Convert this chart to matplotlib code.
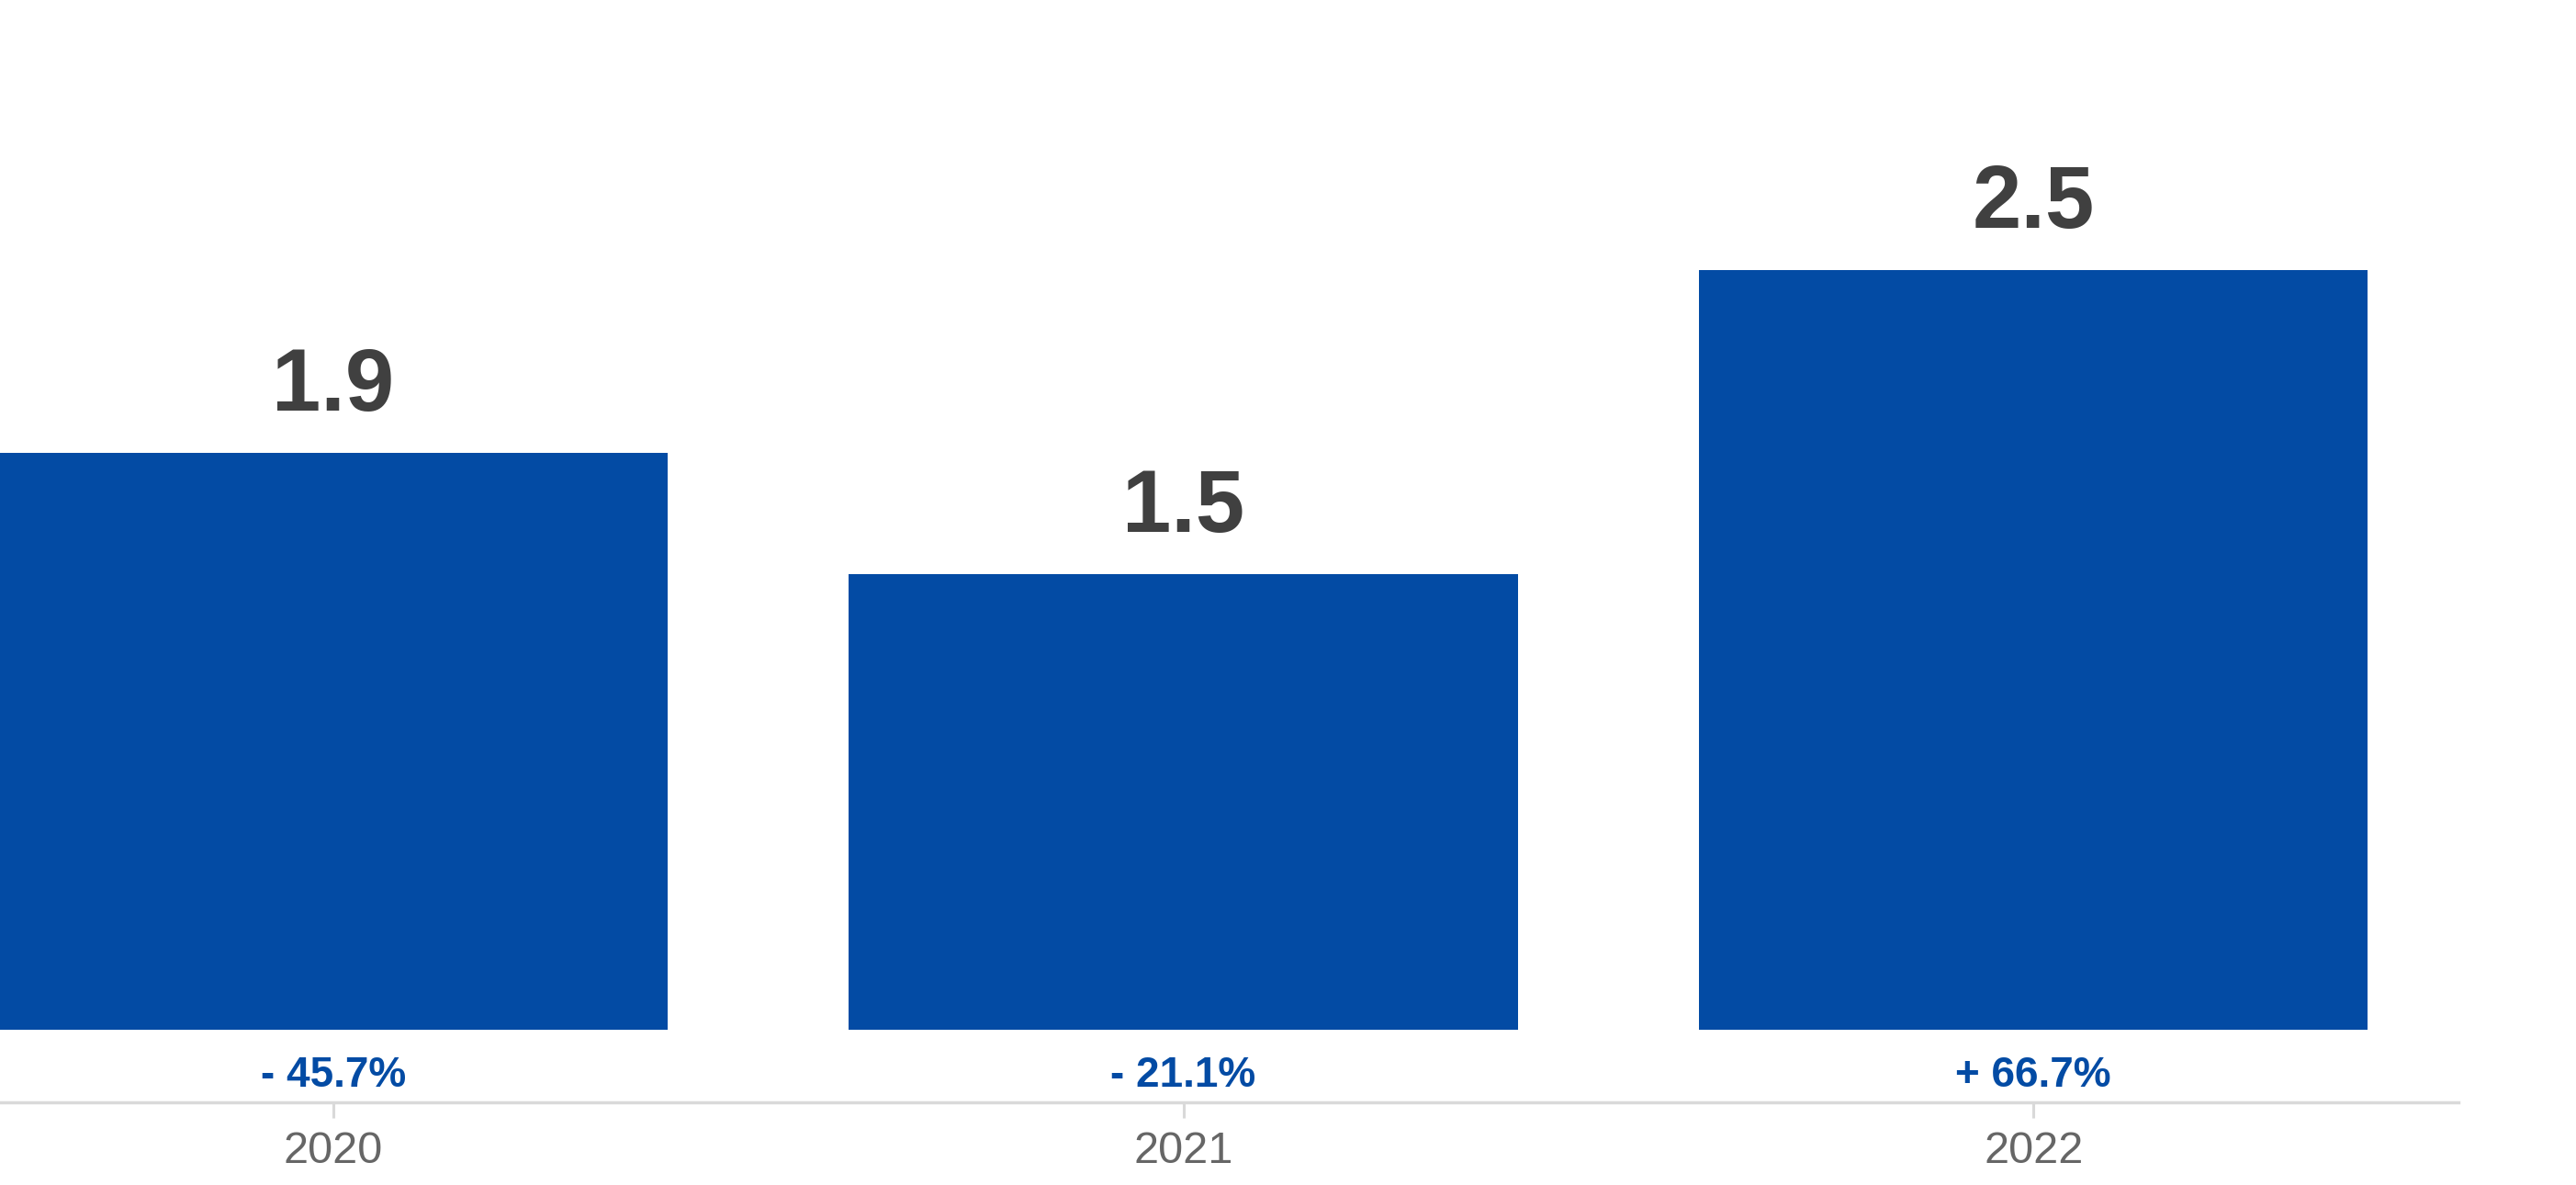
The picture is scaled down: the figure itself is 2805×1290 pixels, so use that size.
import matplotlib.pyplot as plt

# Data
years = ["2020", "2021", "2022"]
values = [1.9, 1.5, 2.5]
changes = ["- 45.7%", "- 21.1%", "+ 66.7%"]

bar_color = "#034ba4"
value_color = "#404040"
year_color = "#666666"
axis_color = "#d9d9d9"

plt.rcParams['font.family'] = ['Liberation Sans', 'DejaVu Sans']

fig = plt.figure(figsize=(28.05, 12.9), dpi=100)
# axes: left edge at canvas edge, bottom spine is the grey axis line
ax = fig.add_axes([0, 90 / 1290, 2677 / 2805, 1200 / 1290])

x = list(range(len(years)))
ax.bar(x, values, width=0.787, color=bar_color, zorder=2)

# value labels above bars
for xi, v in zip(x, values):
    ax.annotate(f"{v:.1f}", (xi, v), xytext=(0, 33), textcoords='offset points',
                ha='center', va='baseline', fontsize=69, fontweight='bold',
                color=value_color)

# change labels between bar base and axis line
for xi, c in zip(x, changes):
    ax.text(xi, -0.187, c, ha='center', va='baseline', fontsize=33,
            fontweight='bold', color=bar_color)

ax.set_xlim(-0.3922, 2.5)
ax.set_ylim(-0.239, 3.389)

ax.set_xticks(x)
ax.set_xticklabels(years, fontsize=35, color=year_color)
ax.tick_params(axis='x', length=12, width=2.2, color=axis_color, pad=10)
ax.set_yticks([])

for side in ['top', 'right', 'left']:
    ax.spines[side].set_visible(False)
ax.spines['bottom'].set_color(axis_color)
ax.spines['bottom'].set_linewidth(2.5)

fig.savefig("out.png", dpi=100)
